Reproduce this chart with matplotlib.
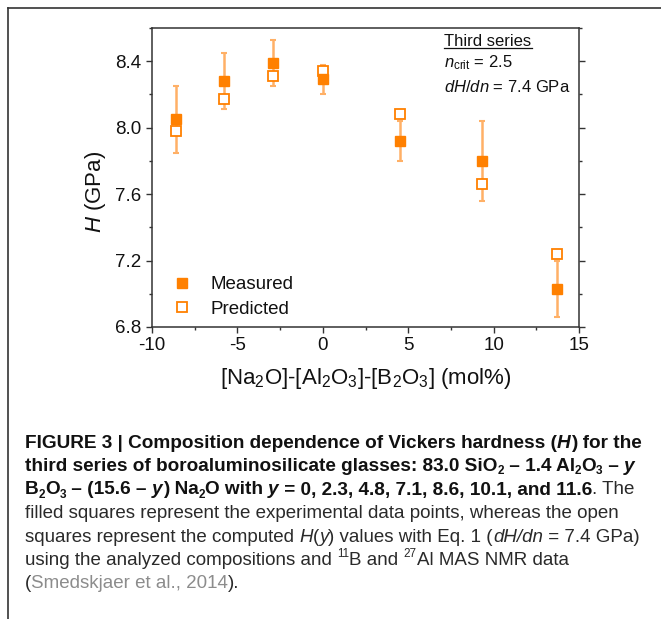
import matplotlib
matplotlib.use('Agg')
import matplotlib.pyplot as plt
from matplotlib import font_manager
from matplotlib.lines import Line2D
from matplotlib.ticker import MultipleLocator, FixedLocator

# ---------------- data ----------------
x_comp = [-8.6, -5.8, -2.9, 0.0, 4.5, 9.3, 13.7]
h_measured = [8.05, 8.28, 8.39, 8.29, 7.92, 7.80, 7.03]
h_error = [0.20, 0.17, 0.14, 0.09, 0.12, 0.24, 0.17]
h_predicted = [7.98, 8.17, 8.31, 8.34, 8.08, 7.66, 7.24]
series_labels = ["Measured", "Predicted"]
x_ticks = [-10, -5, 0, 5, 10, 15]
y_ticks = [6.8, 7.2, 7.6, 8.0, 8.4]

W, H = 661, 619
DPI = 100
ORANGE = '#FF8000'
ERR = '#FFB066'

plt.rcParams.update({
    'font.family': ['Liberation Sans', 'DejaVu Sans'],
    'mathtext.fontset': 'custom',
    'mathtext.rm': 'Liberation Sans',
    'mathtext.it': 'Liberation Sans:italic',
    'mathtext.bf': 'Liberation Sans:bold',
    'axes.unicode_minus': False,
})

fig = plt.figure(figsize=(W / DPI, H / DPI), dpi=DPI)
fig.patch.set_facecolor('white')


def px_rect(l, t, r, b):
    return [l / W, 1 - b / H, (r - l) / W, (b - t) / H]


def fx(x):
    return x / W


def fy(y):
    return 1 - y / H


# outer frame (top and left lines only)
fig.add_artist(Line2D([fx(8), 1.0], [fy(8), fy(8)], color='#333333', lw=1.2,
                      transform=fig.transFigure))
fig.add_artist(Line2D([fx(8), fx(8)], [fy(8), 0.0], color='#333333', lw=1.2,
                      transform=fig.transFigure))

# ---------------- chart ----------------
ax = fig.add_axes(px_rect(152, 28, 579, 327))
ax.set_xlim(-10, 15)
ax.set_ylim(6.8, 8.6)

ax.errorbar(x_comp, h_measured, yerr=h_error, fmt='none', ecolor=ERR,
            elinewidth=1.8, capsize=2.3, capthick=1.5, zorder=2)
ax.plot(x_comp, h_predicted, 's', ms=6.6, mfc='white', mec=ORANGE, mew=1.3,
        linestyle='none', label=series_labels[1], zorder=3)
ax.plot(x_comp, h_measured, 's', ms=6.6, mfc=ORANGE, mec=ORANGE, mew=1.0,
        linestyle='none', label=series_labels[0], zorder=4)

for side in ['left', 'right', 'top', 'bottom']:
    ax.spines[side].set_color('#333333')
    ax.spines[side].set_linewidth(1.1)

ax.xaxis.set_major_locator(FixedLocator(x_ticks))
ax.yaxis.set_major_locator(FixedLocator(y_ticks))
ax.xaxis.set_minor_locator(MultipleLocator(2.5))
ax.yaxis.set_minor_locator(MultipleLocator(0.2))
ax.set_xticklabels([str(v) for v in x_ticks])
ax.set_yticklabels([f'{v:.1f}' for v in y_ticks])
ax.tick_params(axis='both', which='major', direction='out', length=4, width=1.0,
               color='#333333', labelsize=13.5, pad=3.5, labelcolor='#111111')
ax.tick_params(axis='both', which='minor', direction='out', length=2.5, width=1.0,
               color='#333333')
ax.tick_params(axis='y', which='both', right=True)
ax.tick_params(axis='y', which='major', labelright=False)

ax.set_xlabel(r'[Na$_2$O]-[Al$_2$O$_3$]-[B$_2$O$_3$] (mol%)', fontsize=16,
              color='#111111')
ax.set_ylabel(r'$\mathit{H}$ (GPa)', fontsize=16, color='#111111')
ax.xaxis.set_label_coords(0.5, -0.13)
ax.yaxis.set_label_coords(-0.102, 0.451)

# legend (order: measured first)
hs, ls = ax.get_legend_handles_labels()
order = [ls.index(series_labels[0]), ls.index(series_labels[1])]
leg = ax.legend([hs[i] for i in order], [ls[i] for i in order],
                loc='upper left', bbox_to_anchor=((172.6 - 152) / 427, (327 - 276.0) / 300),
                frameon=False, fontsize=13.5, handlelength=1.0, handletextpad=1.0,
                labelspacing=0.38, borderpad=0, borderaxespad=0, numpoints=1)
for t in leg.get_texts():
    t.set_color('#111111')

# annotation block
fig.text(fx(444), fy(46), 'Third series', fontsize=12, color='#111111',
         ha='left', va='baseline')
fig.add_artist(Line2D([fx(444), fx(532)], [fy(48), fy(48)], color='#111111',
                      lw=0.9, transform=fig.transFigure))
fig.text(fx(444), fy(67), r'$\mathit{n}_{\mathrm{crit}}$ = 2.5', fontsize=12,
         color='#111111', ha='left', va='baseline')
fig.text(fx(444), fy(92), r'$\mathit{dH/dn}$ = 7.4 GPa', fontsize=12,
         color='#111111', ha='left', va='baseline')

# ---------------- caption ----------------

def has_font(name):
    try:
        font_manager.findfont(font_manager.FontProperties(family=name),
                              fallback_to_default=False)
        return True
    except Exception:
        return False


CAP_FAMILY = 'Liberation Sans Narrow' if has_font('Liberation Sans Narrow') else 'Liberation Sans'

renderer = fig.canvas.get_renderer()


def props(style, size):
    weight = 'bold' if style.startswith('b') else 'normal'
    italic = 'i' in style[1:]
    return font_manager.FontProperties(family=CAP_FAMILY, weight=weight,
                                       style='italic' if italic else 'normal',
                                       size=size)


def seg_width(txt, fp):
    w1 = renderer.get_text_width_height_descent('|' + txt + '|', fp, ismath=False)[0]
    w0 = renderer.get_text_width_height_descent('||', fp, ismath=False)[0]
    return w1 - w0


def split_style(st):
    if st == 'g':
        return 'r', ''
    if st.endswith('sup'):
        return st[:-3], 'sup'
    if st.endswith('s'):
        return st[:-1], 'sub'
    return st, ''


def line_width(segs, size):
    total = 0
    for txt, st in segs:
        base, kind = split_style(st)
        s = size * 0.62 if kind else size
        total += seg_width(txt, props(base, s))
    return total


caption_lines = [
    [('FIGURE 3 | Composition dependence of Vickers hardness (', 'b'), ('H', 'bi'), (') for the', 'b')],
    [('third series of boroaluminosilicate glasses: 83.0 SiO', 'b'), ('2', 'bs'), (' – 1.4 Al', 'b'),
     ('2', 'bs'), ('O', 'b'), ('3', 'bs'), (' – ', 'b'), ('y', 'bi')],
    [('B', 'b'), ('2', 'bs'), ('O', 'b'), ('3', 'bs'), (' – (15.6 – ', 'b'), ('y', 'bi'), (') Na', 'b'),
     ('2', 'bs'), ('O with ', 'b'), ('y', 'bi'), (' = 0, 2.3, 4.8, 7.1, 8.6, 10.1, and 11.6', 'b'),
     ('. The', 'r')],
    [('filled squares represent the experimental data points, whereas the open', 'r')],
    [('squares represent the computed ', 'r'), ('H', 'ri'), ('(', 'r'), ('y', 'ri'),
     (') values with Eq. 1 (', 'r'), ('dH/dn', 'ri'), (' = 7.4 GPa)', 'r')],
    [('using the analyzed compositions and ', 'r'), ('11', 'rsup'), ('B and ', 'r'), ('27', 'rsup'),
     ('Al MAS NMR data', 'r')],
    [('(', 'r'), ('Smedskjaer et al., 2014', 'g'), (').', 'r')],
]
caption_baselines = [447.5, 471, 494.5, 518, 541.5, 565, 588.5]
CAP_X = 25

# fit caption sizes to the reference widths
bold_size = min(12 * 613 / line_width(caption_lines[0], 12),
                12 * 612 / line_width(caption_lines[2], 12))
reg_size = min(12 * 612 / line_width(caption_lines[3], 12),
               12 * 618 / line_width(caption_lines[4], 12))

COL = {'b': '#111111', 'r': '#2a2a2a', 'g': '#8c8c8c'}

for segs, yb in zip(caption_lines, caption_baselines):
    x = CAP_X
    for txt, st in segs:
        base, kind = split_style(st)
        size = bold_size if base.startswith('b') else reg_size
        dy = 0
        if kind == 'sub':
            size_px = size * DPI / 72
            size = size * 0.62
            dy = 0.18 * size_px
        elif kind == 'sup':
            size_px = size * DPI / 72
            size = size * 0.62
            dy = -0.42 * size_px
        fp = props(base, size)
        color = COL['g'] if st == 'g' else (COL['b'] if base.startswith('b') else COL['r'])
        fig.text(fx(x), fy(yb + dy), txt, fontproperties=fp, color=color,
                 ha='left', va='baseline')
        x += seg_width(txt, fp)

fig.savefig('out.png', dpi=DPI, facecolor='white')
